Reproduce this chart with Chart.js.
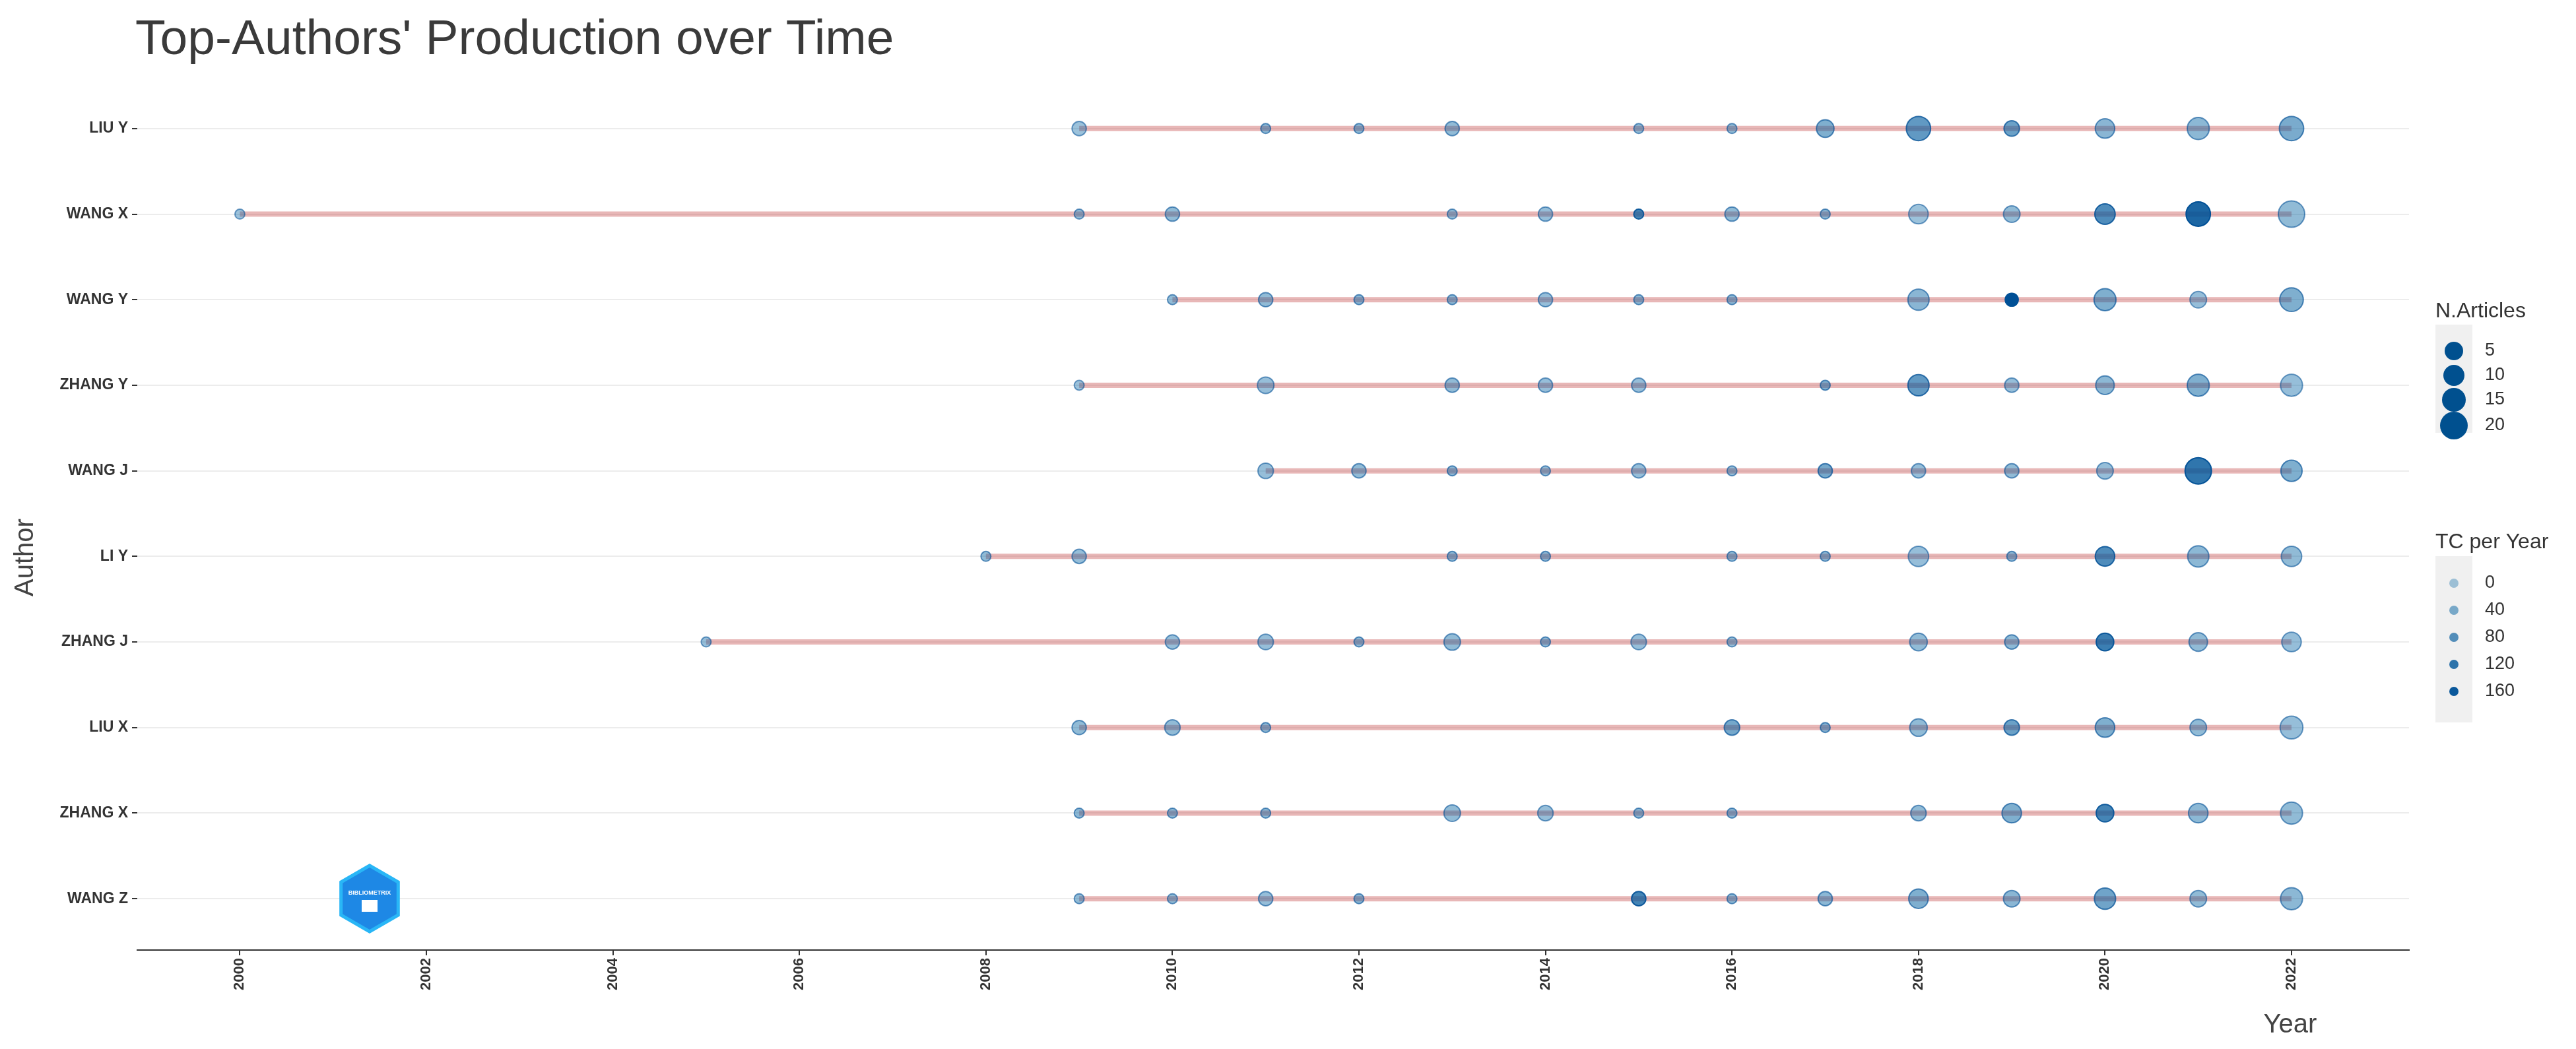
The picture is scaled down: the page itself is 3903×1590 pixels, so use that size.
<!DOCTYPE html>
<html><head><meta charset="utf-8">
<script src="https://cdn.jsdelivr.net/npm/chart.js@4"></script>
<style>html,body{margin:0;padding:0;background:#fff}#c{display:block}</style>
</head><body>
<div style="width:3903px;height:1590px"><canvas id="c"></canvas></div>
<script>
const authors = ["LIU Y","WANG X","WANG Y","ZHANG Y","WANG J","LI Y","ZHANG J","LIU X","ZHANG X","WANG Z"];
const years = [
 [2009,2011,2012,2013,2015,2016,2017,2018,2019,2020,2021,2022],
 [2000,2009,2010,2013,2014,2015,2016,2017,2018,2019,2020,2021,2022],
 [2010,2011,2012,2013,2014,2015,2016,2018,2019,2020,2021,2022],
 [2009,2011,2013,2014,2015,2017,2018,2019,2020,2021,2022],
 [2011,2012,2013,2014,2015,2016,2017,2018,2019,2020,2021,2022],
 [2008,2009,2013,2014,2016,2017,2018,2019,2020,2021,2022],
 [2005,2010,2011,2012,2013,2014,2015,2016,2018,2019,2020,2021,2022],
 [2009,2010,2011,2016,2017,2018,2019,2020,2021,2022],
 [2009,2010,2011,2013,2014,2015,2016,2018,2019,2020,2021,2022],
 [2009,2010,2011,2012,2015,2016,2017,2018,2019,2020,2021,2022]
];
const articles = [
 [4,1,1,4,1,1,7,15,5,9,12,15],
 [1,1,4,1,4,1,4,1,9,6,10,15,18],
 [1,4,1,1,4,1,1,11,3,12,6,14],
 [1,6,4,4,4,1,11,4,8,12,12],
 [5,4,1,1,4,1,4,4,4,6,18,11],
 [1,4,1,1,1,1,10,1,9,11,10],
 [1,4,5,1,6,1,5,1,7,4,7,8,9],
 [4,5,1,5,1,7,5,9,6,13],
 [1,1,1,6,5,1,1,5,9,7,9,12],
 [1,1,4,1,4,1,4,9,6,11,6,12]
];
const tcPerYear = [
 [10,25,25,20,20,20,40,70,60,30,25,45],
 [10,20,20,20,15,100,20,30,10,20,90,140,20],
 [20,20,30,25,15,25,25,30,170,40,15,40],
 [10,15,20,15,15,40,70,15,25,40,15],
 [15,20,30,20,15,20,50,15,20,15,120,40],
 [20,15,30,30,25,30,15,30,90,25,20],
 [15,15,15,30,20,30,15,20,20,25,110,20,15],
 [20,20,25,50,35,20,60,40,20,15],
 [25,25,25,20,15,30,30,20,40,100,25,20],
 [20,20,15,30,100,25,25,40,30,55,20,25]
];
const xTicks = [2000,2002,2004,2006,2008,2010,2012,2014,2016,2018,2020,2022];
const sizeLegend = [5,10,15,20];
const tcLegend = [0,40,80,120,160];

const TOP=117, BOTTOM=1440, LEFT=208, RIGHT=3650;
function diam(n){return Math.sqrt(225+81*(n-1));}
function alphaOf(tc){return 0.35+0.65*Math.min(tc,170)/170;}
function fillOf(tc){const a=alphaOf(tc);return `rgba(0,${Math.round(110-30*a)},${Math.round(170-20*a)},${a.toFixed(2)})`;}

const datasets=[];
authors.forEach((a,i)=>{
  const ys=years[i];
  datasets.push({type:'line',data:[{x:ys[0],y:i},{x:ys[ys.length-1],y:i}],borderColor:'rgba(205,95,95,0.45)',borderWidth:8,pointRadius:0,order:2});
});
authors.forEach((a,i)=>{
  datasets.push({type:'scatter',
    data:years[i].map((y,j)=>({x:y,y:i})),
    pointRadius:years[i].map((y,j)=>diam(articles[i][j])/2),
    backgroundColor:tcPerYear[i].map(fillOf),
    borderColor:tcPerYear[i].map(t=>`rgba(0,80,150,${Math.min(1,alphaOf(t)+0.15).toFixed(2)})`),
    borderWidth:2,order:1});
});

const LX=3690;
const deco={id:'deco',afterDraw(ch){
  const c=ch.ctx;c.save();
  c.fillStyle='#3a3a3a';c.font='75px "Liberation Sans", Arial, sans-serif';c.textBaseline='alphabetic';c.textAlign='left';
  c.fillText("Top-Authors' Production over Time",205,82);
  c.font='40px "Liberation Sans", Arial, sans-serif';c.fillStyle='#444';
  c.textAlign='center';c.fillText('Year',3470,1565);
  c.save();c.translate(50,845);c.rotate(-Math.PI/2);c.fillText('Author',0,0);c.restore();
  c.textAlign='left';c.textBaseline='middle';c.fillStyle='#333';c.font='32px "Liberation Sans", Arial, sans-serif';
  c.fillText('N.Articles',LX,472);
  c.fillStyle='#f0f0f0';c.fillRect(LX,492,56,164);
  sizeLegend.forEach((n,k)=>{const y=[532,569,606,645][k];c.beginPath();c.arc(LX+28,y,[14,16,18,21][k],0,7);c.fillStyle='#00508F';c.fill();
    c.fillStyle='#333';c.font='27px "Liberation Sans", Arial, sans-serif';c.fillText(String(n),LX+75,y);});
  c.font='32px "Liberation Sans", Arial, sans-serif';c.fillStyle='#333';c.fillText('TC per Year',LX,822);
  c.fillStyle='#f0f0f0';c.fillRect(LX,843,56,252);
  tcLegend.forEach((t,k)=>{const y=884+k*41;c.beginPath();c.arc(LX+28,y,7,0,7);c.fillStyle=fillOf(t);c.fill();
    c.fillStyle='#333';c.font='27px "Liberation Sans", Arial, sans-serif';c.fillText(String(t),LX+75,y);});
  const lx=560,ly=1362,R=50;c.beginPath();
  for(let k=0;k<6;k++){const an=Math.PI/6+k*Math.PI/3;c.lineTo(lx+R*Math.cos(an),ly+R*Math.sin(an));}
  c.closePath();c.fillStyle='#1e88e5';c.fill();c.lineWidth=5;c.strokeStyle='#29b6f6';c.stroke();
  c.fillStyle='#fff';c.font='bold 9px "Liberation Sans", Arial';c.textAlign='center';c.fillText('BIBLIOMETRIX',lx,ly-8);
  c.fillRect(lx-12,ly+2,24,18);
  c.restore();
}};

new Chart(document.getElementById('c'),{
  data:{datasets},
  plugins:[deco],
  options:{responsive:true,maintainAspectRatio:false,animation:false,
    layout:{padding:{top:TOP,right:3903-RIGHT,bottom:0,left:0}},
    plugins:{legend:{display:false},tooltip:{enabled:false}},
    scales:{
      x:{type:'linear',min:1998.9,max:2023.26,
        afterBuildTicks(s){s.ticks=xTicks.map(v=>({value:v}));},
        afterFit(s){s.height=1590-BOTTOM;},
        grid:{drawOnChartArea:false,tickColor:'#333',tickLength:8,lineWidth:2},
        border:{display:true,color:'#333',width:2},
        ticks:{callback:v=>String(v),minRotation:90,maxRotation:90,color:'#333',font:{size:22,weight:'bold',family:'"Liberation Sans", Arial'},padding:4}},
      y:{type:'linear',min:-0.6,max:9.6,reverse:true,
        afterBuildTicks(s){s.ticks=authors.map((a,i)=>({value:i}));},
        afterFit(s){s.width=LEFT;},
        grid:{color:'#ececec',lineWidth:2,tickColor:'#333',tickLength:8},
        border:{display:false},
        ticks:{callback:v=>authors[v],color:'#333',font:{size:23,weight:'bold',family:'"Liberation Sans", Arial'},padding:6}}
    }}
});
</script>
</body></html>
